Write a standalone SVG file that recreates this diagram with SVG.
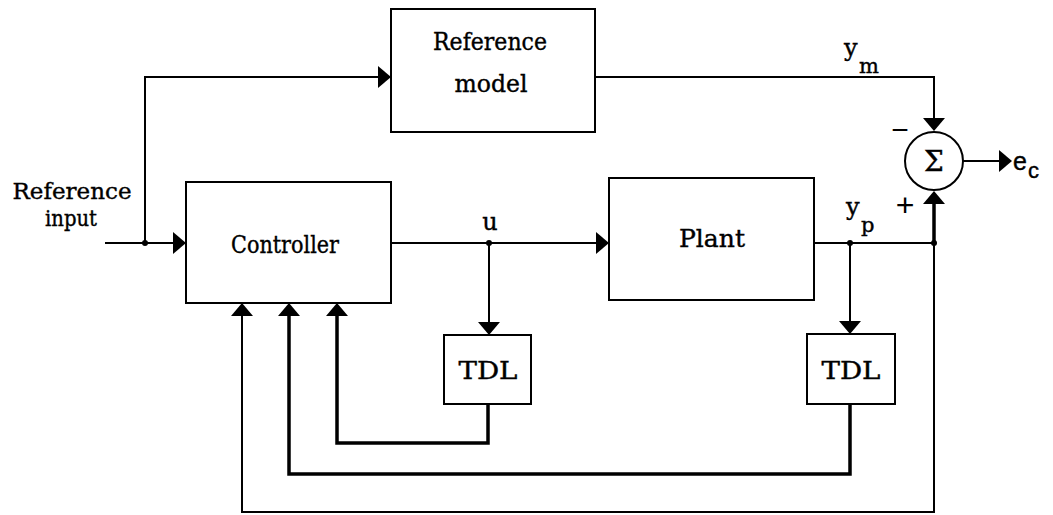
<svg xmlns="http://www.w3.org/2000/svg" width="1053" height="515" viewBox="0 0 1053 515">
<style>
.box{fill:#fff;stroke:#000;stroke-width:2}
.ln{fill:none;stroke:#000;stroke-width:2}
.thk{fill:none;stroke:#000;stroke-width:3.5}
.t{font-family:"DejaVu Serif","Liberation Serif",serif;font-size:25px;fill:#000;stroke:#000;stroke-width:0.4;text-anchor:middle}
.s{font-family:"DejaVu Serif","Liberation Serif",serif;fill:#000;stroke:#000;stroke-width:0.4}
.sans{font-family:"Liberation Sans","DejaVu Sans",sans-serif;fill:#000;stroke:#000;stroke-width:0.4}
.sign{font-family:"Liberation Sans","DejaVu Sans",sans-serif;fill:#000;text-anchor:middle}
</style>
<defs>
<marker id="ah" viewBox="0 0 13 22" refX="8" refY="11" markerWidth="13" markerHeight="22" markerUnits="userSpaceOnUse" orient="auto">
<path d="M0,0 L13,11 L0,22 Z" fill="#000"/>
</marker>
</defs>
<rect width="1053" height="515" fill="#fff"/>

<g id="connectors">
<path class="ln" d="M105,243 H181" marker-end="url(#ah)"/>
<path class="ln" d="M145,243 V77 H386" marker-end="url(#ah)"/>
<path class="ln" d="M595,77 H934 V126" marker-end="url(#ah)"/>
<path class="ln" d="M391,243 H604" marker-end="url(#ah)"/>
<path class="ln" d="M489,243 V330" marker-end="url(#ah)"/>
<path class="ln" d="M814,243 H934"/>
<path class="ln" d="M850,243 V329" marker-end="url(#ah)"/>
<path class="thk" d="M934,243 V196" marker-end="url(#ah)"/>
<path class="ln" d="M963,161 H1007" marker-end="url(#ah)"/>
<path class="thk" d="M488,404 V443 H337 V308" marker-end="url(#ah)"/>
<path class="thk" d="M850,404 V474 H289 V308" marker-end="url(#ah)"/>
<path class="ln" d="M934,243 V512 H242 V308" marker-end="url(#ah)"/>
<circle cx="145" cy="243" r="3"/>
<circle cx="489" cy="243" r="3"/>
<circle cx="850" cy="243" r="3"/>
<circle cx="934" cy="243" r="3"/>
</g>

<g id="input-label">
<text class="t" x="72" y="199" style="font-size:23px" textLength="119" lengthAdjust="spacingAndGlyphs">Reference</text>
<text class="t" x="71" y="226" style="font-size:23px" textLength="52" lengthAdjust="spacingAndGlyphs">input</text>
</g>

<g id="reference-model">
<rect class="box" x="391" y="9" width="204" height="123"/>
<text class="t" x="490" y="50" textLength="114" lengthAdjust="spacingAndGlyphs">Reference</text>
<text class="t" x="491" y="92" textLength="73" lengthAdjust="spacingAndGlyphs">model</text>
</g>

<g id="controller">
<rect class="box" x="186" y="182" width="205" height="121"/>
<text class="t" x="285" y="253" textLength="108" lengthAdjust="spacingAndGlyphs">Controller</text>
</g>

<g id="plant">
<rect class="box" x="609" y="178" width="205" height="122"/>
<text class="t" x="712" y="247" textLength="66" lengthAdjust="spacingAndGlyphs">Plant</text>
</g>

<g id="tdl1">
<rect class="box" x="444" y="335" width="87" height="69"/>
<text class="t" x="488" y="379" textLength="59" lengthAdjust="spacingAndGlyphs">TDL</text>
</g>

<g id="tdl2">
<rect class="box" x="807" y="334" width="88" height="70"/>
<text class="t" x="851" y="379" textLength="59" lengthAdjust="spacingAndGlyphs">TDL</text>
</g>

<g id="sum">
<circle class="box" cx="934" cy="161" r="29"/>
<text class="s" x="934" y="171" font-size="28" text-anchor="middle">Σ</text>
</g>

<g id="labels">
<text class="s" x="490" y="230" font-size="24" text-anchor="middle">u</text>
<text class="s" x="844" y="56" font-size="24">y</text>
<text class="s" x="859" y="73" font-size="21">m</text>
<text class="s" x="846" y="215" font-size="24">y</text>
<text class="s" x="861" y="232" font-size="21">p</text>
<text class="sans" x="1013" y="170" font-size="25">e</text>
<text class="sans" x="1028" y="178" font-size="22">c</text>
<text class="sign" x="900" y="140" font-size="30">−</text>
<text class="sign" x="905" y="216" font-size="32">+</text>
</g>
</svg>
